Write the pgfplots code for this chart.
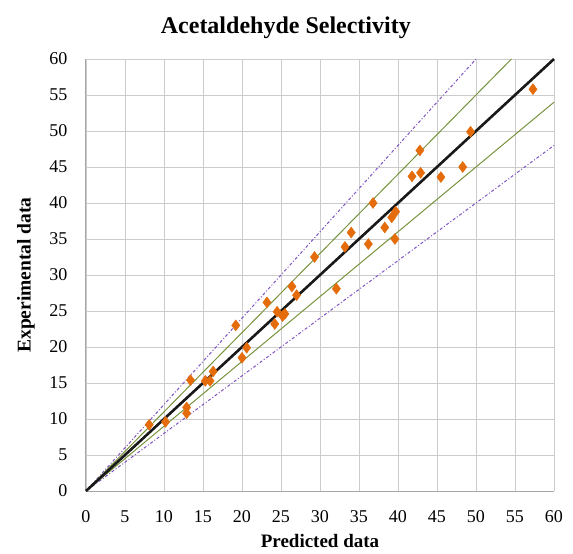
\documentclass[border=0pt]{standalone}
\usepackage{pgfplots}
\pgfplotsset{compat=1.18}
\usepackage{fontspec}
\setmainfont{Liberation Serif}
\definecolor{mkorange}{HTML}{E46C0A}
\definecolor{olivegreen}{HTML}{77933C}
\definecolor{dashpurple}{HTML}{7F52C2}
\definecolor{gridgray}{HTML}{CCCCCC}
\definecolor{axgray}{HTML}{A6A6A6}
\begin{document}
\begin{tikzpicture}
\useasboundingbox (-86bp,-63bp) rectangle (487bp,491bp);
\begin{axis}[
  at={(0,0)}, anchor=south west,
  scale only axis, width=468bp, height=432bp,
  xmin=0, xmax=60, ymin=0, ymax=60,
  xtick={0,5,...,60}, ytick={0,5,...,60},
  grid=major,
  major grid style={gridgray, line width=0.9bp},
  axis x line*=bottom, axis y line*=left,
  axis line style={axgray, line width=1bp, -},
  major tick length=0pt,
  /pgf/number format/assume math mode=true,
  tick label style={font=\fontsize{18bp}{20bp}\selectfont},
  xticklabel style={yshift=-16bp},
  yticklabel style={xshift=-15bp},
  xlabel={\textbf{Predicted data}},
  ylabel={\textbf{Experimental data}},
  every axis x label/.style={at={(axis description cs:0.5,0)}, anchor=center, yshift=-50bp, font=\fontsize{19bp}{21bp}\selectfont},
  every axis y label/.style={at={(axis description cs:0,0.5)}, anchor=center, xshift=-60bp, rotate=90, font=\fontsize{19.5bp}{22bp}\selectfont},
  title={\textbf{Acetaldehyde Selectivity}},
  every axis title/.style={at={(axis description cs:0.427,1)}, anchor=center, yshift=31bp, font=\fontsize{24bp}{26bp}\selectfont},
  clip=false,
]
\addplot[dashpurple, line width=1bp, dash pattern=on 3bp off 2bp on 1bp off 2bp] coordinates {(0,0) (50,60)};
\addplot[dashpurple, line width=1bp, dash pattern=on 3bp off 2bp on 1bp off 2bp] coordinates {(0,0) (60,48)};
\addplot[olivegreen, line width=1bp] coordinates {(0,0) (54.545,60)};
\addplot[olivegreen, line width=1bp] coordinates {(0,0) (60,54)};
\addplot[black!90, line width=2.6bp] coordinates {(0,0) (60,60)};
\addplot[only marks, mark=diamond*, mark size=5.5bp, mark options={mkorange, fill=mkorange}] coordinates {
(8.1,9.2) (10.2,9.6) (12.9,11.6) (12.9,10.8) (13.4,15.4) (15.3,15.3) (15.9,15.3)
(16.3,16.6) (20.0,18.5) (20.6,19.9) (19.2,23.0) (23.2,26.2) (24.2,23.2)
(24.5,24.9) (25.2,24.3) (25.5,24.6) (26.4,28.4) (27.0,27.2) (29.3,32.5)
(32.1,28.1) (33.2,33.9) (34.0,35.9) (36.2,34.3) (36.8,40.0) (38.3,36.6)
(39.2,38.0) (39.7,38.8) (39.6,35.0) (41.8,43.7) (42.9,44.2) (42.8,47.3)
(45.5,43.6) (48.3,45.0) (49.3,49.9) (57.3,55.8)
};
\end{axis}
\end{tikzpicture}
\end{document}
